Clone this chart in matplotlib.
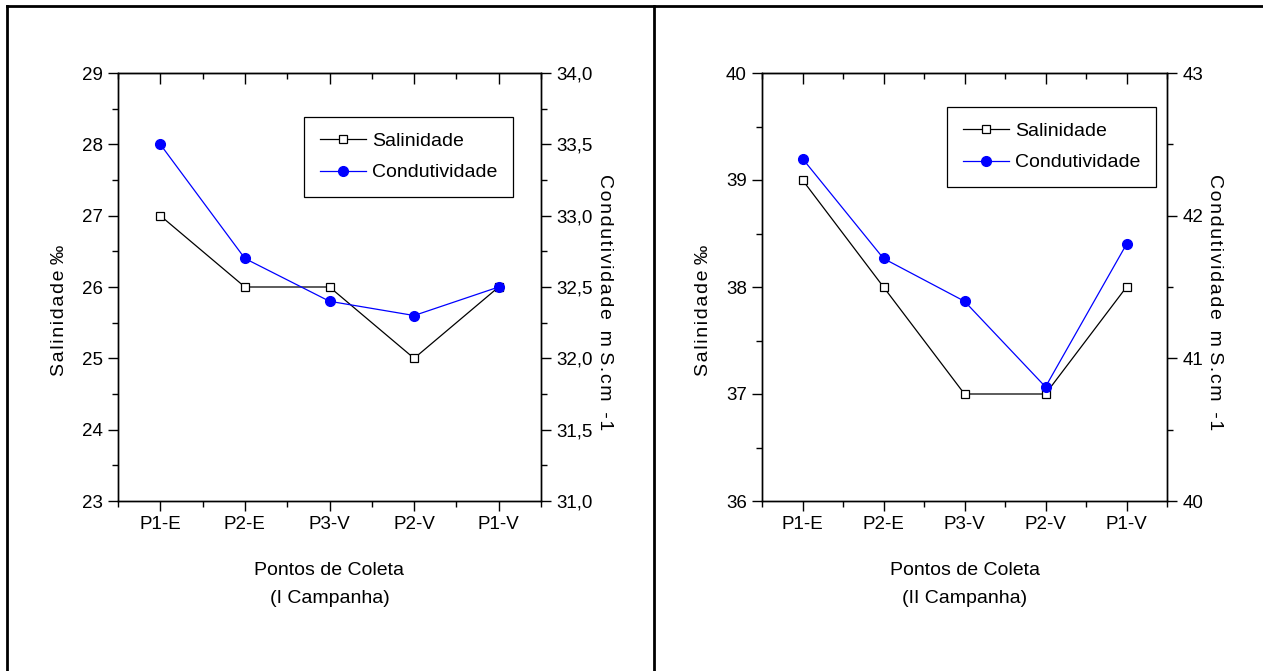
import matplotlib
matplotlib.use("Agg")
import matplotlib.pyplot as plt
from matplotlib.lines import Line2D
from matplotlib.ticker import MultipleLocator, FuncFormatter, FixedLocator
from matplotlib import font_manager

names = {f.name for f in font_manager.fontManager.ttflist}
if "Liberation Sans Narrow" in names:
    FAM = ["Liberation Sans Narrow", "DejaVu Sans"]
    FS = 15
    LFS = 15
else:
    FAM = ["Liberation Sans", "DejaVu Sans"]
    FS = 13.5
    LFS = 14
plt.rcParams["font.family"] = FAM

categories = ["P1-E", "P2-E", "P3-V", "P2-V", "P1-V"]
sal_1 = [27, 26, 26, 25, 26]
cond_1 = [33.5, 32.7, 32.4, 32.3, 32.5]
sal_2 = [39, 38, 37, 37, 38]
cond_2 = [42.4, 41.7, 41.4, 40.8, 41.8]

W, H = 1263, 671
fig = plt.figure(figsize=(W / 100, H / 100), dpi=100)

HS = "\u200a"


def spaced(s, sep=HS):
    return sep.join(s)


def comma(v, pos):
    return f"{v:.1f}".replace(".", ",")


def panel(rect, sal, cond, sal_lim, cond_lim, cond_major, cond_minor, cond_fmt,
          subtitle, legend_anchor, ylab_x, y2lab_x):
    ax = fig.add_axes(rect)
    x = list(range(1, len(categories) + 1))
    h1, = ax.plot(x, sal, color="black", lw=0.9, marker="s", ms=6,
                  mfc="white", mec="black", mew=0.9, label="Salinidade")
    ax.set_xlim(0.5, len(categories) + 0.5)
    ax.set_ylim(*sal_lim)
    ax.xaxis.set_major_locator(FixedLocator(x))
    ax.set_xticklabels(categories)
    ax.xaxis.set_minor_locator(MultipleLocator(0.5))
    ax.yaxis.set_major_locator(MultipleLocator(1))
    ax.yaxis.set_minor_locator(MultipleLocator(0.5))
    ax.tick_params(which="major", direction="out", length=7, width=1,
                   labelsize=FS, pad=4)
    ax.tick_params(which="minor", direction="out", length=4, width=1)
    ax.set_xlabel(f"Pontos de Coleta\n({subtitle} Campanha)", fontsize=LFS,
                  labelpad=21, linespacing=1.8)
    ax.set_ylabel(spaced("Salinidade") + " ‰", fontsize=LFS)
    ax.yaxis.set_label_coords(ylab_x, 0.446)

    sec = ax.secondary_xaxis("top")
    sec.xaxis.set_major_locator(FixedLocator(x))
    sec.xaxis.set_minor_locator(MultipleLocator(0.5))
    sec.tick_params(which="major", direction="in", length=8, width=1,
                    labeltop=False)
    sec.tick_params(which="minor", direction="in", length=4, width=1)
    sec.set_xticklabels([])

    ax2 = ax.twinx()
    h2, = ax2.plot(x, cond, color="#0000ff", lw=0.9, marker="o", ms=7,
                   mfc="#0000ff", mec="#0000ff", label="Condutividade")
    ax2.set_ylim(*cond_lim)
    ax2.yaxis.set_major_locator(MultipleLocator(cond_major))
    ax2.yaxis.set_minor_locator(MultipleLocator(cond_minor))
    if cond_fmt:
        ax2.yaxis.set_major_formatter(FuncFormatter(comma))
    ax2.tick_params(which="major", direction="out", length=7, width=1,
                    labelsize=FS, pad=4)
    ax2.tick_params(which="minor", direction="out", length=4, width=1)
    ax2.set_ylabel(spaced("Condutividade") + "  " + spaced("m") + " " +
                   spaced("S.cm") + "  " + spaced("-1"),
                   fontsize=LFS, rotation=270, va="center")
    ax2.yaxis.set_label_coords(y2lab_x, 0.465)
    for a in (ax, ax2):
        for s in a.spines.values():
            s.set_linewidth(1)
    leg = ax2.legend(handles=[h1, h2], loc="upper left",
                     bbox_to_anchor=legend_anchor, fontsize=LFS, frameon=True,
                     fancybox=False, edgecolor="black", framealpha=1,
                     handlelength=2.4, handletextpad=0.3, borderpad=0.8,
                     labelspacing=0.7, borderaxespad=0)
    leg.get_frame().set_linewidth(0.9)
    return ax, ax2


panel([118 / W, 1 - 501 / H, 423 / W, 428 / H], sal_1, cond_1, (23, 29),
      (31, 34), 0.5, 0.25, True, "I",
      ((304 - 118) / 423, (501 - 117) / 428),
      (68 - 118) / 423, (605 - 118) / 423)
panel([762 / W, 1 - 501 / H, 405 / W, 428 / H], sal_2, cond_2, (36, 40),
      (40, 43), 1, 0.5, False, "II",
      ((947 - 762) / 405, (501 - 107) / 428),
      (712 - 762) / 405, (1215 - 762) / 405)

# outer frame lines
fig.add_artist(Line2D([7 / W, 7 / W], [0, 1 - 6 / H], color="black", lw=2,
                      transform=fig.transFigure))
fig.add_artist(Line2D([7 / W, 1], [1 - 6 / H, 1 - 6 / H], color="black", lw=2,
                      transform=fig.transFigure))
fig.add_artist(Line2D([654 / W, 654 / W], [0, 1 - 6 / H], color="black", lw=2,
                      transform=fig.transFigure))

fig.savefig("out.png", dpi=100, facecolor="white")
